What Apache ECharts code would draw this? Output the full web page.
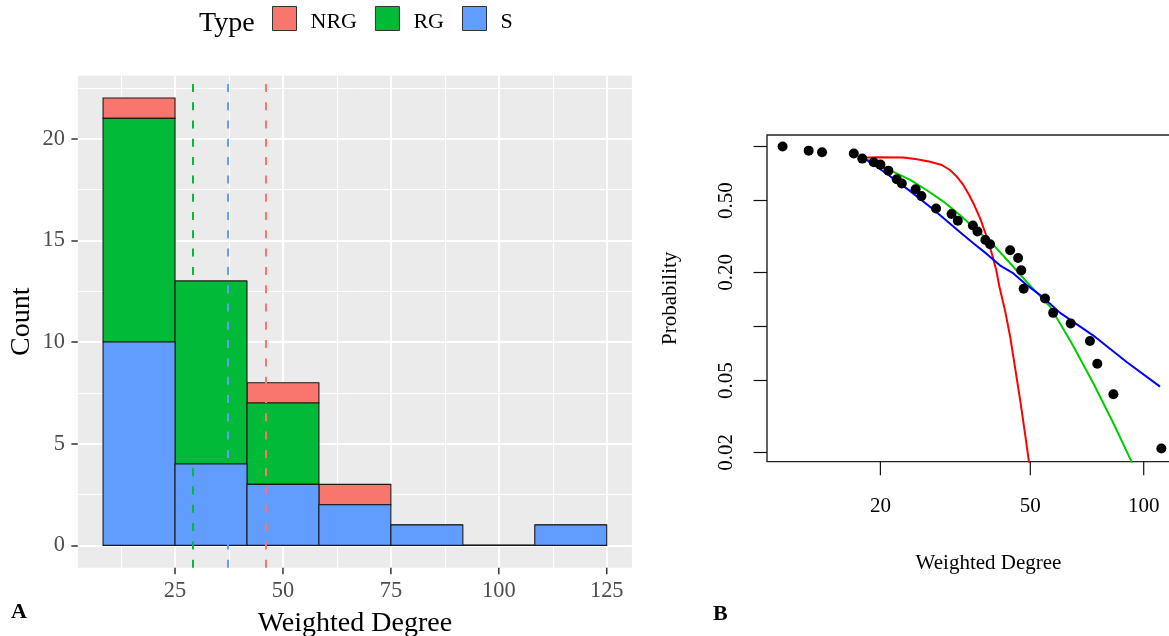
<!DOCTYPE html>
<html>
<head>
<meta charset="utf-8">
<script src="https://cdn.jsdelivr.net/npm/echarts@6/dist/echarts.min.js"></script>
<style>
  html, body { margin: 0; padding: 0; background: #ffffff; }
  #chart { width: 1169px; height: 636px; }
</style>
</head>
<body>
<div id="chart"></div>
<script>
// ---------- Panel A: stacked histogram of weighted degree by type ----------
const typeNames = ['NRG', 'RG', 'S'];
const typeColors = ['#F8766D', '#00BA38', '#619CFF'];
const binEdges = [8.33, 25, 41.67, 58.33, 75, 91.67, 108.33, 125];
const countNRG = [1, 0, 1, 1, 0, 0, 0];
const countRG = [11, 9, 4, 0, 0, 0, 0];
const countS = [10, 4, 3, 2, 1, 0, 1];
const meanDegree = [46.1, 29.2, 37.3];          // NRG, RG, S
const histXTicks = [25, 50, 75, 100, 125];
const histXMinor = [12.5, 37.5, 62.5, 87.5, 112.5];
const histYTicks = [0, 5, 10, 15, 20];
const histYMinor = [2.5, 7.5, 12.5, 17.5, 22.5];
const histXRange = [2.5, 130.83];
const histYRange = [-1.1, 23.1];

// ---------- Panel B: empirical CCDF with three fitted curves (log-log) ----------
const ccdfDegree = [11.0, 12.9, 14.0, 17.0, 17.9, 19.2, 20.0, 21.0, 22.1, 22.8,
                    24.8, 25.7, 28.1, 30.9, 32.1, 35.2, 36.2, 38.0, 39.1, 44.2,
                    46.4, 47.3, 48.0, 54.7, 57.5, 64.0, 72.0, 75.3, 83.1, 111.4];
const ccdfProb = [1.000, 0.948, 0.929, 0.914, 0.856, 0.817, 0.793, 0.734, 0.658, 0.622,
                  0.578, 0.530, 0.452, 0.422, 0.387, 0.364, 0.337, 0.302, 0.286, 0.265,
                  0.240, 0.205, 0.162, 0.143, 0.119, 0.104, 0.083, 0.062, 0.042, 0.021];

const fitRedDegree = [18.0, 19.6, 23.0, 25.0, 27.1, 29.1, 30.6, 31.9, 33.2, 34.4, 35.3,
                      36.8, 38.3, 39.5, 40.6, 41.4, 42.8, 44.2, 45.5, 47.0, 48.4, 49.6, 50.4];
const fitRedProb = [0.866, 0.870, 0.868, 0.849, 0.823, 0.789, 0.740, 0.680, 0.611, 0.538, 0.484,
                    0.399, 0.315, 0.255, 0.206, 0.166, 0.124, 0.088, 0.060, 0.039, 0.0255, 0.0177, 0.014];

const fitGreenDegree = [18.0, 21.6, 24.0, 26.5, 29.4, 32.5, 36.0, 39.9, 44.2, 48.9,
                        56.4, 64.4, 73.5, 83.1, 92.9, 95.0];
const fitGreenProb = [0.866, 0.724, 0.652, 0.573, 0.494, 0.416, 0.344, 0.284, 0.2245, 0.177,
                      0.129, 0.0807, 0.0484, 0.029, 0.0177, 0.015];

const fitBlueDegree = [18.0, 20.8, 24.0, 27.6, 32.5, 35.3, 38.3, 41.6, 45.1, 48.9,
                       54.1, 60.0, 73.5, 90.1, 110.5];
const fitBlueProb = [0.866, 0.705, 0.565, 0.448, 0.335, 0.290, 0.253, 0.218, 0.197, 0.170,
                     0.145, 0.119, 0.0890, 0.0635, 0.0463];

const ccdfXTicks = [20, 50, 100];
const ccdfYTicks = [1, 0.5, 0.2, 0.1, 0.05, 0.02];
const ccdfYLabels = [0.5, 0.2, 0.05, 0.02];
const ccdfXRange = [10, 150];
const ccdfYRange = [0.01774, 1.158];

const serif = "'Liberation Serif', 'Times New Roman', serif";
const lg = Math.log10;
const pxPerDecadeX = 376.7;
const pxPerDecadeY = 180;
const hiddenAxisLine = { show: true, onZero: false, lineStyle: { color: 'rgba(0,0,0,0)', width: 0 } };

// Stack the histogram counts: S at the bottom, RG above it, NRG on top.
function stackedRects() {
  const rects = { S: [], RG: [], NRG: [] };
  for (let i = 0; i < countS.length; i++) {
    const x0 = binEdges[i], x1 = binEdges[i + 1];
    const s = countS[i], rg = countRG[i], nrg = countNRG[i];
    rects.S.push([x0, x1, 0, s]);
    rects.RG.push([x0, x1, s, s + rg]);
    rects.NRG.push([x0, x1, s + rg, s + rg + nrg]);
  }
  return rects;
}
const rects = stackedRects();

function renderBar(params, api) {
  const a = api.coord([api.value(0), api.value(2)]);
  const b = api.coord([api.value(1), api.value(3)]);
  return {
    type: 'rect',
    shape: { x: a[0], y: b[1], width: b[0] - a[0], height: a[1] - b[1] },
    style: { fill: api.visual('color'), stroke: '#1a1a1a', lineWidth: 1.1 }
  };
}

const barSeries = typeNames.map((name, k) => ({
  name: name,
  type: 'custom',
  xAxisIndex: 0,
  yAxisIndex: 0,
  z: 2,
  itemStyle: { color: typeColors[k] },
  encode: { x: [0, 1], y: [2, 3] },
  renderItem: renderBar,
  data: rects[name]
}));

// Outward tick marks below a panel's bottom edge, placed through the x scale
function bottomTicks(axisIndex, values, edge, len, color, width) {
  return {
    name: 'ticks-' + axisIndex,
    type: 'custom',
    xAxisIndex: axisIndex,
    yAxisIndex: axisIndex,
    clip: false,
    silent: true,
    z: 5,
    encode: { x: 0, y: 1 },
    data: values.map(v => [v, edge]),
    renderItem: (params, api) => {
      const p = api.coord([api.value(0), api.value(1)]);
      return {
        type: 'line',
        shape: { x1: p[0], y1: p[1], x2: p[0], y2: p[1] + len },
        style: { stroke: color, lineWidth: width }
      };
    }
  };
}

// Panel background grid lines (white, major thicker than minor)
const gridLineSeries = {
  name: 'gridlines',
  type: 'line',
  xAxisIndex: 0,
  yAxisIndex: 0,
  data: [],
  silent: true,
  markLine: {
    z: 1,
    silent: true,
    symbol: 'none',
    label: { show: false },
    emphasis: { disabled: true },
    data: [].concat(
      histXMinor.map(v => ({ xAxis: v, lineStyle: { color: '#ffffff', width: 1, type: 'solid' } })),
      histYMinor.map(v => ({ yAxis: v, lineStyle: { color: '#ffffff', width: 1, type: 'solid' } })),
      histXTicks.map(v => ({ xAxis: v, lineStyle: { color: '#ffffff', width: 2, type: 'solid' } })),
      histYTicks.map(v => ({ yAxis: v, lineStyle: { color: '#ffffff', width: 2, type: 'solid' } }))
    )
  }
};

// Dashed vertical lines at each type's mean degree
const meanLineSeries = {
  name: 'means',
  type: 'line',
  xAxisIndex: 0,
  yAxisIndex: 0,
  data: [],
  silent: true,
  markLine: {
    z: 3,
    silent: true,
    symbol: 'none',
    label: { show: false },
    emphasis: { disabled: true },
    data: meanDegree.map((m, k) => [
      { coord: [m, histYRange[0]], lineStyle: { color: typeColors[k], width: 2, type: [8, 10.3] } },
      { coord: [m, histYRange[1]] }
    ])
  }
};

const pts = (xs, ys) => xs.map((x, i) => [lg(x), lg(ys[i])]);

const fitLine = (name, color, xs, ys) => ({
  name: name,
  type: 'line',
  xAxisIndex: 1,
  yAxisIndex: 1,
  data: pts(xs, ys),
  showSymbol: false,
  symbol: 'none',
  clip: true,
  z: 3,
  lineStyle: { color: color, width: 2 }
});

const option = {
  animation: false,
  backgroundColor: '#ffffff',
  title: {
    text: 'Type',
    left: 199,
    top: 10,
    padding: 0,
    textStyle: { fontFamily: serif, fontSize: 28, fontWeight: 'normal', color: '#000' }
  },
  legend: {
    data: typeNames,
    left: 272,
    top: 6,
    padding: 0,
    icon: 'rect',
    itemWidth: 24,
    itemHeight: 24,
    itemGap: 18,
    selectedMode: false,
    itemStyle: { borderColor: '#333333', borderWidth: 1 },
    formatter: name => '{t|' + name + '}',
    textStyle: {
      fontFamily: serif, fontSize: 22, color: '#000',
      rich: { t: { fontFamily: serif, fontSize: 22, color: '#000', padding: [8, 0, 0, 9] } }
    }
  },
  graphic: [
    { type: 'text', left: 11, top: 601, style: { text: 'A', font: 'bold 22px ' + serif, fill: '#000' } },
    { type: 'text', left: 713, top: 603, style: { text: 'B', font: 'bold 22px ' + serif, fill: '#000' } }
  ],
  grid: [
    { left: 77.9, top: 75.7, width: 554, height: 492, show: true, backgroundColor: '#EBEBEB',
      borderWidth: 0, outerBoundsMode: 'none', containLabel: false },
    { left: 767, top: 135, width: (lg(ccdfXRange[1]) - lg(ccdfXRange[0])) * pxPerDecadeX,
      height: (lg(ccdfYRange[1]) - lg(ccdfYRange[0])) * pxPerDecadeY,
      show: true, backgroundColor: 'transparent', borderColor: '#222', borderWidth: 1.4,
      outerBoundsMode: 'none', containLabel: false }
  ],
  xAxis: [
    {
      type: 'value', gridIndex: 0, min: histXRange[0], max: histXRange[1], position: 'bottom',
      axisLine: hiddenAxisLine,
      splitLine: { show: false },
      axisTick: { show: false },
      axisLabel: { customValues: histXTicks, color: '#4D4D4D', fontFamily: serif, fontSize: 22.4, margin: 12 },
      name: 'Weighted Degree', nameLocation: 'middle', nameGap: 42,
      nameTextStyle: { fontFamily: serif, fontSize: 28, color: '#000' }
    },
    {
      type: 'value', gridIndex: 1, min: lg(ccdfXRange[0]), max: lg(ccdfXRange[1]), position: 'bottom',
      axisLine: hiddenAxisLine,
      splitLine: { show: false },
      axisTick: { show: false },
      axisLabel: { customValues: ccdfXTicks.map(lg), color: '#000', fontFamily: serif, fontSize: 21, margin: 34,
                   formatter: v => String(Math.round(Math.pow(10, v))) },
      name: 'Weighted Degree', nameLocation: 'middle', nameGap: 91,
      nameTextStyle: { fontFamily: serif, fontSize: 21, color: '#000' }
    }
  ],
  yAxis: [
    {
      type: 'value', gridIndex: 0, min: histYRange[0], max: histYRange[1], position: 'left',
      axisLine: hiddenAxisLine,
      splitLine: { show: false },
      axisTick: { show: true, inside: false, customValues: histYTicks, length: 6.5, lineStyle: { color: '#333', width: 1.5 } },
      axisLabel: { customValues: histYTicks, color: '#4D4D4D', fontFamily: serif, fontSize: 22.4, margin: 13 },
      name: 'Count', nameLocation: 'middle', nameGap: 42, nameRotate: 90,
      nameTextStyle: { fontFamily: serif, fontSize: 28, color: '#000' }
    },
    {
      type: 'value', gridIndex: 1, min: lg(ccdfYRange[0]), max: lg(ccdfYRange[1]), position: 'left',
      axisLine: hiddenAxisLine,
      splitLine: { show: false },
      axisTick: { show: true, inside: false, customValues: ccdfYTicks.map(lg), length: 13.5, lineStyle: { color: '#111', width: 1.2 } },
      axisLabel: { customValues: ccdfYLabels.map(lg), rotate: 90, color: '#000', fontFamily: serif, fontSize: 21, margin: 30,
                   formatter: v => Math.pow(10, v).toFixed(2) },
      name: 'Probability', nameLocation: 'middle', nameGap: 86, nameRotate: 90,
      nameTextStyle: { fontFamily: serif, fontSize: 21, color: '#000' }
    }
  ],
  series: [
    gridLineSeries,
    ...barSeries,
    meanLineSeries,
    bottomTicks(0, histXTicks, histYRange[0], 6.5, '#333', 1.5),
    bottomTicks(1, ccdfXTicks.map(lg), lg(ccdfYRange[0]), 13.5, '#111', 1.2),
    {
      name: 'ccdf',
      type: 'scatter',
      xAxisIndex: 1,
      yAxisIndex: 1,
      symbol: 'circle',
      symbolSize: 10,
      z: 4,
      itemStyle: { color: '#000', opacity: 1 },
      data: pts(ccdfDegree, ccdfProb)
    },
    fitLine('fit-red', '#FF0000', fitRedDegree, fitRedProb),
    fitLine('fit-green', '#00CD00', fitGreenDegree, fitGreenProb),
    fitLine('fit-blue', '#0000FF', fitBlueDegree, fitBlueProb)
  ]
};

const chart = echarts.init(document.getElementById('chart'), null, { renderer: 'canvas' });
chart.setOption(option);
</script>
</body>
</html>
